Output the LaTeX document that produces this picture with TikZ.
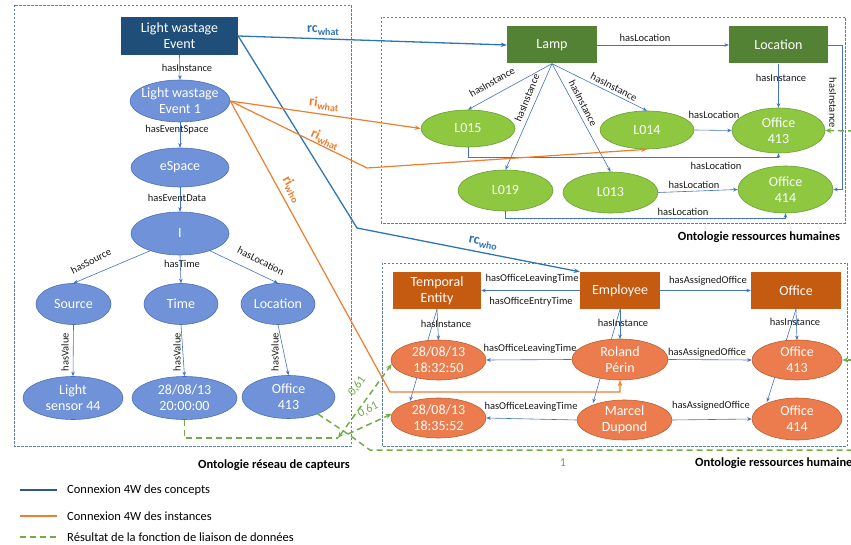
\documentclass[tikz,border=0pt]{standalone}
\usepackage{fontspec}
\setmainfont{Carlito}
\usetikzlibrary{arrows.meta,shapes.geometric,backgrounds,calc}
\definecolor{navy}{HTML}{1F4E79}
\definecolor{bfill}{HTML}{7092D8}
\definecolor{bbord}{HTML}{4C6FB8}
\definecolor{grect}{HTML}{548235}
\definecolor{gfill}{HTML}{8DC840}
\definecolor{gbord}{HTML}{6A9E32}
\definecolor{orect}{HTML}{C55A11}
\definecolor{ofill}{HTML}{EC7C4E}
\definecolor{obord}{HTML}{B8602E}
\definecolor{eblue}{HTML}{4472C4}
\definecolor{cblue}{HTML}{2E75B6}
\definecolor{corange}{HTML}{ED7D31}
\definecolor{gdashc}{HTML}{70AD47}
\definecolor{boxc}{HTML}{5B7DB8}
\definecolor{legblue}{HTML}{2F5597}
\begin{document}
\begin{tikzpicture}[x=1pt,y=-1pt,
  conc/.style={rectangle, draw=none, inner sep=0pt, text=white, align=center, font=\fontsize{14}{16}\selectfont},
  etxt/.style={text=white, align=center, font=\fontsize{14}{16}\selectfont, inner sep=0pt},
  ellb/.style={ellipse, draw=bbord, fill=bfill, line width=0.6pt, inner sep=0pt},
  ellg/.style={ellipse, draw=gbord, fill=gfill, line width=0.6pt, inner sep=0pt},
  ello/.style={ellipse, draw=obord, fill=ofill, line width=0.6pt, inner sep=0pt},
  elab/.style={font=\fontsize{10.5}{11}\selectfont, inner sep=0.5pt, text=black!90},
  rel/.style={draw=eblue, line width=0.6pt, -{Stealth[length=4.5pt,width=3.6pt]}},
  boxd/.style={draw=boxc, line width=0.5pt, dash pattern=on 2.5pt off 1.5pt},
  cline/.style={draw=cblue, line width=1.3pt, -{Stealth[length=6pt,width=4.5pt]}},
  oline/.style={draw=corange, line width=1.2pt, -{Stealth[length=6pt,width=4.5pt]}},
  gdash/.style={draw=gdashc, line width=1.5pt, dash pattern=on 6pt off 4pt},
  garr/.style={gdash, -{Stealth[length=6pt,width=5pt]}},
  clab/.style={text=cblue, font=\bfseries\fontsize{14}{15}\selectfont, inner sep=0pt},
  olab/.style={text=corange, font=\bfseries\fontsize{14}{15}\selectfont, inner sep=0pt},
  ttl/.style={font=\bfseries\fontsize{12.5}{13}\selectfont, inner sep=0pt},
  legt/.style={font=\fontsize{12.5}{13}\selectfont, anchor=west, inner sep=0pt},
  gnum/.style={text=gdashc, font=\fontsize{12}{13}\selectfont, inner sep=0pt}
]
\useasboundingbox (0,0) rectangle (851,545);

% ---------- dashed ontology boxes ----------
\draw[boxd] (14,5) rectangle (351,446);
\draw[boxd] (381,17) rectangle (845,223);
\draw[boxd] (382,263) rectangle (847,446);

% ---------- left ontology ----------
\node[conc, fill=navy, minimum width=117pt, minimum height=38pt] (lwe) at (179.5,36) {Light wastage\\Event};
\node[ellb, minimum width=100pt, minimum height=42pt, label={[etxt]center:{Light wastage\\Event 1}}] (lwe1) at (180,101) {};
\node[ellb, minimum width=98pt, minimum height=39pt, label={[etxt]center:eSpace}] (esp) at (180,167.5) {};
\node[ellb, minimum width=98pt, minimum height=43pt, label={[etxt]center:I}] (inode) at (180,233.5) {};
\node[ellb, minimum width=75pt, minimum height=41pt, label={[etxt]center:Source}] (src) at (73.5,304) {};
\node[ellb, minimum width=74pt, minimum height=41pt, label={[etxt]center:Time}] (tim) at (181,304) {};
\node[ellb, minimum width=74pt, minimum height=41pt, label={[etxt]center:Location}] (loc) at (278,304) {};
\node[ellb, minimum width=100pt, minimum height=43pt, label={[etxt]center:{Light\\sensor 44}}] (ls44) at (73,398) {};
\node[ellb, minimum width=105pt, minimum height=43pt, label={[etxt]center:{28/08/13\\20:00:00}}] (t20) at (184.5,398) {};
\node[ellb, minimum width=93pt, minimum height=43pt, label={[etxt]center:{Office\\413}}] (of413b) at (288.5,397) {};

\draw[rel] (lwe.south) -- (lwe1.north);
\node[elab] (l1) at (187,68) {hasInstance};
\draw[rel] (lwe1.south) -- (esp.north);
\node[elab] (l2) at (177,130) {hasEventSpace};
\draw[rel] (esp.south) -- (inode.north);
\node[elab] (l3) at (177,198) {hasEventData};
\draw[rel] (inode.-150) -- (src.north);
\node[elab, rotate=27] (l4) at (91,261) {hasSource};
\draw[rel] (inode.south) -- (tim.north);
\node[elab] (l5) at (182,264) {hasTime};
\draw[rel] (inode.-30) -- (loc.north);
\node[elab, rotate=-27] (l6) at (261,261) {hasLocation};
\draw[rel] (src.south) -- (ls44.north);
\node[elab, rotate=90] (l7) at (65,352) {hasValue};
\draw[rel] (tim.south) -- (t20.north);
\node[elab, rotate=90] (l8) at (177,352) {hasValue};
\draw[rel] (loc.south) -- (of413b.north);
\node[elab, rotate=90] (l9) at (275,352) {hasValue};

% ---------- top right ontology ----------
\node[conc, fill=grect, minimum width=90pt, minimum height=37pt] (lamp) at (552,45) {Lamp};
\node[conc, fill=grect, minimum width=99pt, minimum height=37pt] (locr) at (778.5,45) {Location};
\node[ellg, minimum width=94pt, minimum height=37pt, label={[etxt]center:L015}] (l015) at (468,128.5) {};
\node[ellg, minimum width=94pt, minimum height=38pt, label={[etxt]center:L014}] (l014) at (647,130) {};
\node[ellg, minimum width=93pt, minimum height=45pt, label={[etxt]center:{Office\\413}}] (o413g) at (778.5,130.5) {};
\node[ellg, minimum width=95pt, minimum height=41pt, label={[etxt]center:L019}] (l019) at (505.5,190.5) {};
\node[ellg, minimum width=95pt, minimum height=41pt, label={[etxt]center:L013}] (l013) at (610.5,192.5) {};
\node[ellg, minimum width=95pt, minimum height=47pt, label={[etxt]center:{Office\\414}}] (o414g) at (785.5,189.5) {};

\draw[rel] (lamp.east) -- (locr.west);
\node[elab] (m1) at (645,38) {hasLocation};
\draw[rel] (lamp.south) -- (l015.north);
\node[elab, rotate=30] (m2) at (492,82) {hasInstance};
\draw[rel] (lamp.south) -- (l019.north);
\node[elab, rotate=68] (m3) at (527,98) {hasInstance};
\draw[rel] (lamp.south) -- (l013.north);
\node[elab, rotate=-63] (m4) at (583,103) {hasInstance};
\draw[rel] (lamp.south) -- (l014.north);
\node[elab, rotate=-27] (m5) at (614,87) {hasInstance};
\draw[rel] (locr.south) -- (o413g.north);
\node[elab] (m6) at (781,78) {hasInstance};
\draw[rel] (locr.east) -- ++(14,0) |- (o414g.east);
\node[elab, rotate=-90] (m7) at (833,103) {hasInstance};
\draw[rel] (l014.east) -- (o413g.west);
\node[elab] (m8) at (714,115) {hasLocation};
\draw[rel] (l015.south) -- ++(0,10) -| (o413g.south);
\node[elab] (m9) at (716,166) {hasLocation};
\draw[rel] (l013.east) -- (o414g.west);
\node[elab] (m10) at (694,185) {hasLocation};
\draw[rel] (l019.south) -- ++(0,7) -| (o414g.south);
\node[elab] (m11) at (683,212) {hasLocation};

% ---------- bottom right ontology ----------
\node[conc, fill=orect, minimum width=88pt, minimum height=37pt] (te) at (437,290.5) {Temporal\\Entity};
\node[conc, fill=orect, minimum width=80pt, minimum height=37pt] (emp) at (620,290.5) {Employee};
\node[conc, fill=orect, minimum width=90pt, minimum height=37pt] (offr) at (796,290.5) {Office};

\begin{pgfonlayer}{background}
\draw[rel] (te.south) -- (438.5,340);
\draw[rel] (te.south) -- (410,401);
\draw[rel] (emp.south) -- (620,339);
\draw[rel] (emp.south) -- (593,403);
\draw[rel] (offr.south) -- (797,340);
\draw[rel] (offr.south) -- (767,402);
\end{pgfonlayer}

\node[ello, minimum width=95pt, minimum height=40pt, label={[etxt]center:{28/08/13\\18:32:50}}] (ts1) at (438.5,360) {};
\node[ello, minimum width=96pt, minimum height=41pt, label={[etxt]center:{Roland\\Périn}}] (rp) at (620,359.5) {};
\node[ello, minimum width=90pt, minimum height=40pt, label={[etxt]center:{Office\\413}}] (o413o) at (797,360) {};
\node[ello, minimum width=95pt, minimum height=40pt, label={[etxt]center:{28/08/13\\18:35:52}}] (ts2) at (438.5,418) {};
\node[ello, minimum width=95pt, minimum height=40pt, label={[etxt]center:{Marcel\\Dupond}}] (md) at (624.5,420) {};
\node[ello, minimum width=90pt, minimum height=42pt, label={[etxt]center:{Office\\414}}] (o414o) at (797,419) {};

\node[elab] (n0) at (446,324) {hasInstance};
\node[elab] (n0b) at (623,323) {hasInstance};
\node[elab] (n0c) at (795,322) {hasInstance};
\draw[rel] (emp.west) -- (te.east);
\node[elab] (n1) at (532,279) {hasOfficeLeavingTime};
\node[elab] (n2) at (531,302) {hasOfficeEntryTime};
\draw[rel] (emp.east) -- (offr.west);
\node[elab] (n3) at (708,281) {hasAssignedOffice};
\draw[rel] (rp.west) -- (ts1.east);
\node[elab] (n4) at (530,349) {hasOfficeLeavingTime};
\draw[rel] (md.west) -- (ts2.east);
\node[elab] (n5) at (531,407) {hasOfficeLeavingTime};
\draw[rel] (rp.east) -- (o413o.west);
\node[elab] (n6) at (707,353) {hasAssignedOffice};
\draw[rel] (md.east) -- (o414o.west);
\node[elab] (n7) at (711,406) {hasAssignedOffice};

% ---------- 4W concept connexions ----------
\coordinate (rcb) at (357,228);
\draw[cline] (lwe.east) -- (lamp.west);
\node[clab] (rcw) at (323,31) {rc\raisebox{-0.45ex}{\fontsize{10}{11}\selectfont what}};
\draw[cline] (lwe.east) -- (rcb) -- (emp.north west);
\node[clab, rotate=-11] (rcwo) at (483,243) {rc\raisebox{-0.45ex}{\fontsize{10}{11}\selectfont who}};

% ---------- 4W instance connexions ----------
\coordinate (oa) at (367,168);
\coordinate (ob) at (390,392);
\draw[oline] (lwe1.east) -- (l015.west);
\node[olab, rotate=-6] (riw1) at (324,104) {ri\raisebox{-0.45ex}{\fontsize{10}{11}\selectfont what}};
\draw[oline] (lwe1.east) -- (oa) -- (l014.south);
\node[olab, rotate=-24] (riw2) at (325,139) {ri\raisebox{-0.45ex}{\fontsize{10}{11}\selectfont what}};
\draw[oline] (lwe1.east) -- (ob) -| (rp.south);
\node[olab, rotate=-60] (riwo) at (292,189) {ri\raisebox{-0.45ex}{\fontsize{10}{11}\selectfont who}};

% ---------- data linking results ----------
\coordinate (gB) at (338,438);
\coordinate (gC) at (348,434);
\coordinate (gD) at (370,450);
\coordinate (gE) at (854,450);
\coordinate (gT) at (854,131);
\draw[gdash] (t20.south) -- (t20.south |- gB) -- (gB);
\draw[gdash, {Stealth[length=6pt,width=5pt]}-{Stealth[length=6pt,width=5pt]}] (gB) -- (ts1.185);
\node[gnum, rotate=54] (g1) at (357,386) {0,61};
\draw[gdash] (of413b.-30) -- (gC) -- (gD) -- (gE) -- (gT);
\draw[garr] (gC) -- (ts2.175);
\node[gnum, rotate=28] (g2) at (368,410) {0,61};
\draw[garr] (gT) -- (o413g.east);
\draw[garr] (gE |- o413o.east) -- (o413o.east);
\node[gnum] (g3) at (563,463) {1};

% ---------- titles ----------
\node[ttl] (tl) at (274,465) {Ontologie réseau de capteurs};
\node[ttl] (tr1) at (759,237) {Ontologie ressources humaines};
\node[ttl, anchor=west] (tr2) at (695,463) {Ontologie ressources humaines};

% ---------- legend ----------
\coordinate (a1) at (20,490); \coordinate (b1) at (57,490);
\coordinate (a2) at (20,516); \coordinate (b2) at (57,516);
\coordinate (a3) at (20,537); \coordinate (b3) at (57,537);
\draw[draw=legblue, line width=1.3pt] (a1) -- (b1);
\draw[draw=corange, line width=1.3pt] (a2) -- (b2);
\draw[gdash] (a3) -- (b3);
\node[legt] (lg1) at (67,490) {Connexion 4W des concepts};
\node[legt] (lg2) at (67,516) {Connexion 4W des instances};
\node[legt] (lg3) at (67,537) {Résultat de la fonction de liaison de données};
\end{tikzpicture}
\end{document}
